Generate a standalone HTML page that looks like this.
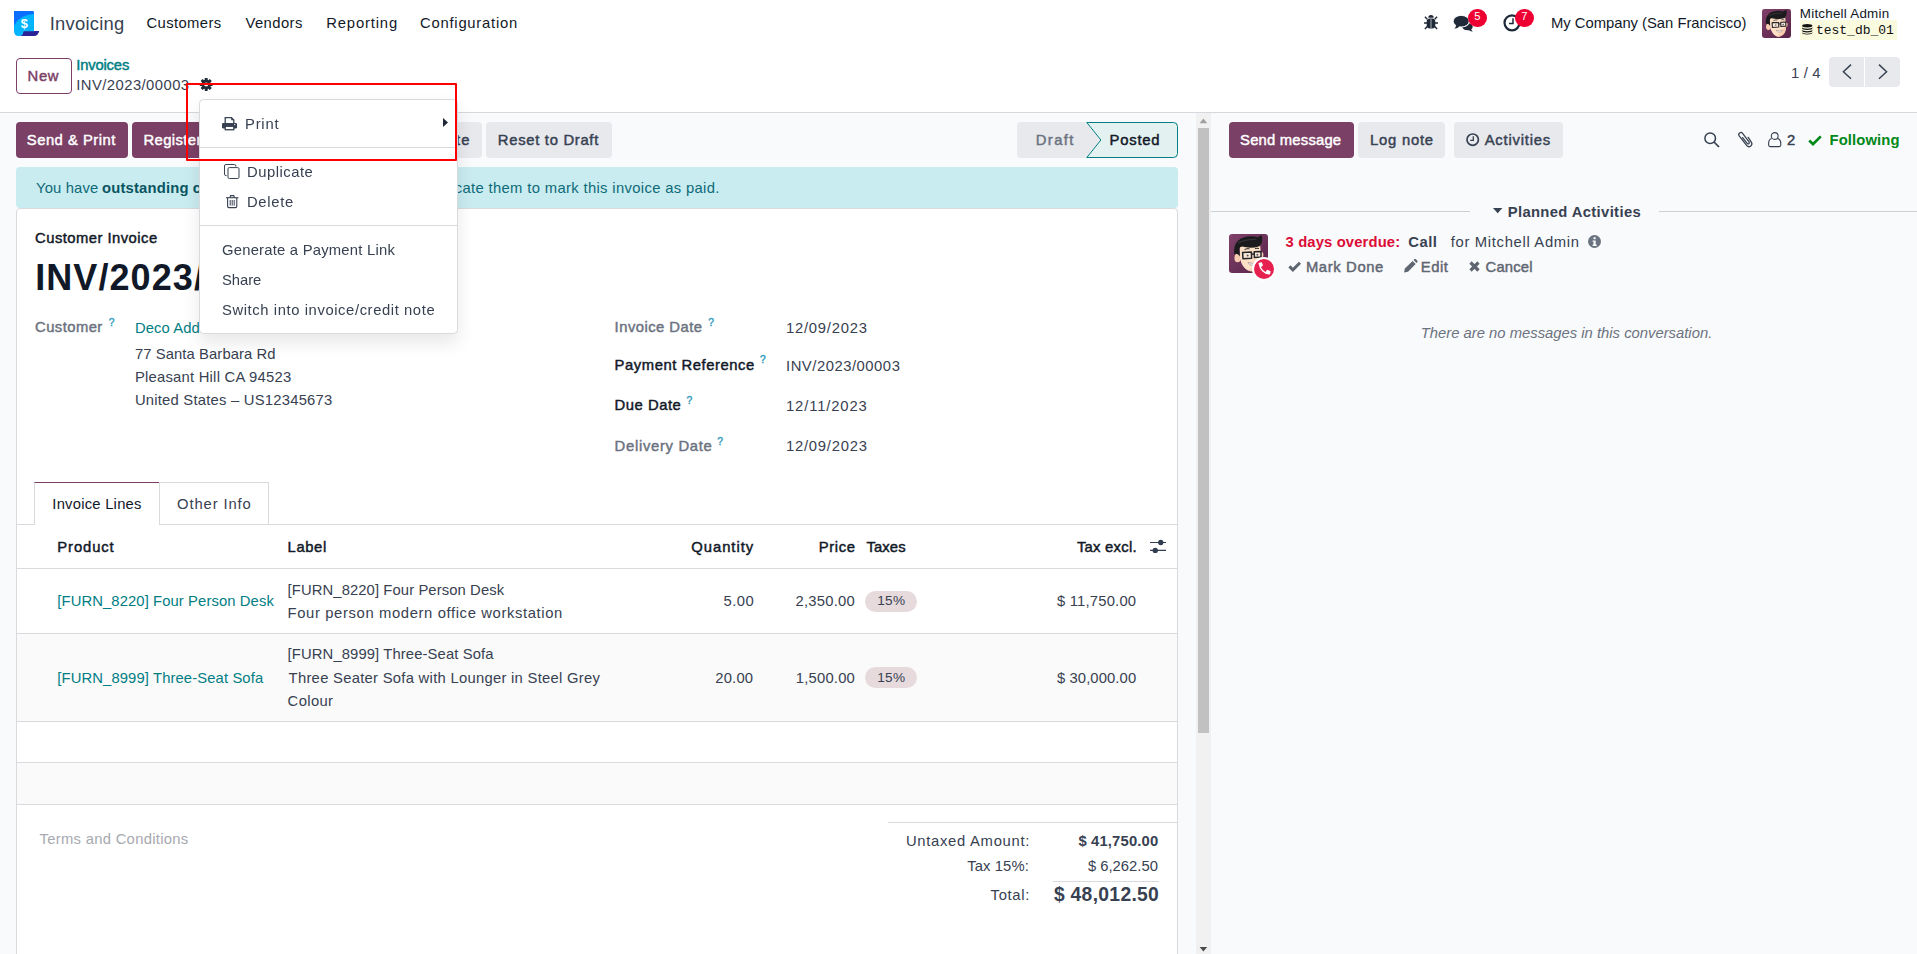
<!DOCTYPE html>
<html lang="en">
<head>
<meta charset="utf-8">
<title>Odoo - INV/2023/00003</title>
<style>
*{box-sizing:border-box;margin:0;padding:0}
html,body{width:1917px;height:954px;overflow:hidden;background:#fff}
body{position:relative;font-family:"Liberation Sans",sans-serif;font-size:14.8px;color:#374151}
.a{position:absolute}
.t{position:absolute;white-space:pre;line-height:1;font-family:"Liberation Sans",sans-serif}
.btn{position:absolute;top:122px;height:36px;border-radius:4px}
.pri{background:#7b4066}
.sec{background:#e7e9ed}
.hl{position:absolute;height:1px;background:#d8dadd}
svg{position:absolute;overflow:visible}
</style>
</head>
<body>
<!-- ===== page backgrounds ===== -->
<div class="a" style="left:0;top:113px;width:1917px;height:841px;background:#f9fafb"></div>
<div class="hl" style="left:0;top:112px;width:1917px;background:#d5d8dc"></div>

<!-- ===== navbar ===== -->
<svg style="left:14px;top:11px" width="26" height="26" viewBox="0 0 26 26">
  <path d="M9.3 20H25.2Q24 25 20.2 25H5.5Q9 24.3 9.3 20Z" fill="#2a2496"/>
  <path d="M0 0H18.4A1.6 1.6 0 0 1 20 1.6V20.3H9.4Q9.4 25 4.9 25Q0 25 0 19.8Z" fill="#00b4ff"/>
  <path d="M0 0H18.4A1.6 1.6 0 0 1 20 1.6V3.1Q6.5 3.4 0 14.6Z" fill="#0b6dff"/>
  <text x="10.3" y="16.7" font-family="Liberation Sans, sans-serif" font-weight="700" font-size="12.8" fill="#fff" text-anchor="middle">$</text>
</svg>

<!-- bug -->
<svg style="left:1424px;top:15px" width="14" height="14" viewBox="0 0 14 14">
  <path d="M4.3 2.7A2.7 2.7 0 0 1 9.7 2.7Z" fill="#1f2937"/>
  <path d="M0.9 1.7L3.3 4.3M13.1 1.7L10.7 4.3M0 8H3M14 8H11M0.9 13.9L3.3 11.4M13.1 13.9L10.7 11.4" stroke="#1f2937" stroke-width="1.4" fill="none"/>
  <rect x="2.7" y="3.6" width="8.6" height="9.8" rx="3.2" fill="#1f2937"/>
  <path d="M7 4.2V13.2" stroke="#e8eef8" stroke-width=".7"/>
</svg>
<!-- comments -->
<svg style="left:1453px;top:15px" width="21" height="17" viewBox="0 0 21 17">
  <path d="M9 11.8Q14.6 12.2 16.2 8.2Q19.7 9.4 19.7 11.8Q19.7 13.3 18.2 14.3Q18.6 15.6 19.9 16.6Q17.4 16.5 16 15.2Q10.6 16 9 11.8Z" fill="#1f2937"/>
  <ellipse cx="8.2" cy="6.2" rx="8" ry="5.8" fill="#1f2937" stroke="#fff" stroke-width=".9"/>
  <path d="M3.2 9.8Q3 12.4 1.4 13.8Q4.6 13.6 6.6 11.6Z" fill="#1f2937"/>
</svg>
<div class="a" style="left:1468px;top:8.5px;width:18.6px;height:18.6px;border-radius:50%;background:#ee0033"></div>
<!-- clock -->
<svg style="left:1503px;top:14px" width="18" height="18" viewBox="0 0 18 18">
  <circle cx="9" cy="8.8" r="7.5" fill="none" stroke="#1f2937" stroke-width="2.2"/>
  <path d="M10 4.3V9.6H6" fill="none" stroke="#1f2937" stroke-width="1.5"/>
</svg>
<div class="a" style="left:1515px;top:8.5px;width:18.6px;height:18.6px;border-radius:50%;background:#ee0033"></div>
<!-- avatar -->
<svg style="left:1762px;top:9px" width="29" height="29" viewBox="0 0 39 39">
  <defs><linearGradient id="ag29" x1="0" y1="0" x2="1" y2="1"><stop offset="0" stop-color="#80416b"/><stop offset="1" stop-color="#582348"/></linearGradient>
  <clipPath id="ac29"><rect width="39" height="39" rx="3.2"/></clipPath></defs>
  <g clip-path="url(#ac29)">
  <rect width="39" height="39" fill="url(#ag29)"/>
  <ellipse cx="8.6" cy="24" rx="3.2" ry="4.2" fill="#f6cdb0"/>
  <path d="M10.5 12.5Q20 9.5 31 10.5L32.3 22Q32.6 30 28.6 34.4Q24 38.6 19 36.6Q13 33.4 11.1 25Z" fill="#fde0c6"/>
  <path d="M25.5 30.5Q30 27 32.2 20L32.3 22Q32.6 30 28.6 34.4Q24 38.6 19.6 36.8Q23.5 35 25.5 30.5Z" fill="#f8cdae"/>
  <ellipse cx="33" cy="21" rx="1.4" ry="3" fill="#f6cdb0"/>
  <path d="M5.2 20Q4 9 12 4.5Q20 1 29 3.2Q31 1.2 33.2 1.6Q32.6 3 33.4 4.2Q33.5 9 30.6 12.2Q22 15 13 12.6Q10.6 12.8 10.4 15L10.9 22.5Q8.8 19 5.2 20Z" fill="#1b1b1d"/>
  <path d="M13.6 18.4L22.4 18.1L22.6 24.2L14 24.8Z" fill="#fbe9da" stroke="#26262a" stroke-width="1.5" stroke-linejoin="round"/>
  <path d="M25.2 17.8L32 17.4L32 23L25.4 23.6Z" fill="#fbe9da" stroke="#26262a" stroke-width="1.5" stroke-linejoin="round"/>
  <path d="M22.4 20.2L25.2 20" stroke="#26262a" stroke-width="1.3"/>
  <circle cx="18.6" cy="21.4" r="1" fill="#555"/><circle cx="28.4" cy="20.8" r="1" fill="#555"/>
  <path d="M15.5 15.6Q18 14.2 20.5 14.8" stroke="#2a2a2a" stroke-width="1" fill="none"/>
  <path d="M26 14.6Q28 13.8 30 14.6" stroke="#2a2a2a" stroke-width="1" fill="none"/>
  <path d="M18.9 28.5Q23.5 30.2 27.8 28.2Q26 31.7 22.6 31.3Q20 30.9 18.9 28.5Z" fill="#f3f0ee" stroke="#9a7f80" stroke-width=".6"/>
  <path d="M9 9Q17 4.6 27.5 5.4" stroke="#3c3c40" stroke-width="1.3" fill="none" opacity=".75"/>
  </g>
</svg>
<!-- db badge -->
<div class="a" style="left:1800px;top:20px;width:97px;height:20px;background:#fafadf"></div>
<svg style="left:1802px;top:24px" width="10.5" height="10.5" viewBox="0 0 10.5 10.5">
  <ellipse cx="5.25" cy="1.7" rx="5.1" ry="1.7" fill="#111"/>
  <path d="M0.15 3V4.3A5.1 1.7 0 0 0 10.35 4.3V3A5.1 1.7 0 0 1 0.15 3Z" fill="#111"/>
  <path d="M0.15 5.5V6.8A5.1 1.7 0 0 0 10.35 6.8V5.5A5.1 1.7 0 0 1 0.15 5.5Z" fill="#111"/>
  <path d="M0.15 8V8.8A5.1 1.7 0 0 0 10.35 8.8V8A5.1 1.7 0 0 1 0.15 8Z" fill="#111"/>
</svg>


<!-- ===== control panel ===== -->
<div class="a" style="left:16px;top:58px;width:56px;height:36px;border:1px solid #7b4066;border-radius:4px;background:#fff"></div>
<div class="a sec" style="left:1829px;top:57px;width:35px;height:30px;border-radius:4px 0 0 4px"></div>
<div class="a sec" style="left:1865px;top:57px;width:35px;height:30px;border-radius:0 4px 4px 0"></div>

<!-- gear -->
<svg style="left:199.8px;top:78px" width="12.4" height="13" viewBox="-6.2 -6.5 12.4 13">
  <g fill="#1f2937">
  <rect x="-1.5" y="-6.5" width="3" height="13" rx=".4"/>
  <rect x="-1.5" y="-6.5" width="3" height="13" rx=".4" transform="rotate(45)"/>
  <rect x="-1.5" y="-6.5" width="3" height="13" rx=".4" transform="rotate(90)"/>
  <rect x="-1.5" y="-6.5" width="3" height="13" rx=".4" transform="rotate(135)"/>
  <circle r="4.7"/></g>
  <circle r="2.1" fill="#fff"/>
</svg>
<!-- pager chevrons -->
<svg style="left:1829px;top:57px" width="71" height="30" viewBox="0 0 71 30">
  <path d="M22 7.6L14.4 14.7L22 21.8" fill="none" stroke="#374151" stroke-width="1.45"/>
  <path d="M50 7.6L57.6 14.7L50 21.8" fill="none" stroke="#374151" stroke-width="1.45"/>
</svg>


<!-- ===== form: button row ===== -->
<div class="btn pri" style="left:16px;width:112px"></div>
<div class="btn pri" style="left:132px;width:148px"></div>
<div class="btn sec" style="left:284px;width:82px"></div>
<div class="btn sec" style="left:370px;width:112px"></div>
<div class="btn sec" style="left:486px;width:126px"></div>
<!-- statusbar -->
<svg style="left:1017px;top:122px" width="161" height="36" viewBox="0 0 161 36">
  <path d="M4 0H69.3L83.6 18L69.3 36H4A4 4 0 0 1 0 32V4A4 4 0 0 1 4 0Z" fill="#e7e9ed"/>
  <path d="M69.8 0.5H156.5A4 4 0 0 1 160.5 4.5V31.5A4 4 0 0 1 156.5 35.5H69.8L83.9 18Z" fill="#e4f1f1" stroke="#017e84" stroke-width="1" stroke-linejoin="round"/>
</svg>
<!-- alert -->
<div class="a" style="left:16px;top:167px;width:1162px;height:41px;background:#c9ecf0;border-radius:4px"></div>
<!-- sheet -->
<div class="a" style="left:16px;top:208px;width:1162px;height:760px;background:#fff;border:1px solid #d8dadd;border-radius:4px 4px 0 0"></div>

<!-- tabs -->
<div class="hl" style="left:17px;top:524px;width:1160px"></div>
<div class="a" style="left:34px;top:482px;width:126px;height:43px;background:#fff;border:1px solid #d8dadd;border-top-color:#7b4066;border-bottom:none"></div>
<div class="a" style="left:159px;top:482px;width:110px;height:42px;border:1px solid #d8dadd;border-left:none;border-bottom:none"></div>

<!-- table -->
<div class="hl" style="left:17px;top:568px;width:1160px"></div>
<div class="a" style="left:17px;top:634px;width:1160px;height:87px;background:#fafafa"></div>
<div class="hl" style="left:17px;top:633px;width:1160px"></div>
<div class="hl" style="left:17px;top:721px;width:1160px"></div>
<div class="hl" style="left:17px;top:762px;width:1160px"></div>
<div class="a" style="left:17px;top:763px;width:1160px;height:41px;background:#fafafa"></div>
<div class="hl" style="left:17px;top:804px;width:1160px"></div>
<!-- tax badges -->
<div class="a" style="left:865px;top:591px;width:52px;height:21px;border-radius:11px;background:#e6dadd"></div>
<div class="a" style="left:865px;top:667px;width:52px;height:21px;border-radius:11px;background:#e6dadd"></div>
<!-- totals -->
<div class="hl" style="left:888px;top:822px;width:289px"></div>
<div class="hl" style="left:1053px;top:881px;width:106px"></div>

<!-- sliders icon -->
<svg style="left:1150px;top:540px" width="17" height="14" viewBox="0 0 17 14">
  <path d="M0 2.5H16M0 10.4H16" stroke="#313c4e" stroke-width="1.15"/>
  <circle cx="10.75" cy="2.5" r="2.65" fill="#313c4e"/><circle cx="5.25" cy="10.4" r="2.65" fill="#313c4e"/>
</svg>


<!-- scrollbar -->
<div class="a" style="left:1196px;top:113px;width:15px;height:841px;background:#f1f1f1"></div>
<div class="a" style="left:1198px;top:128px;width:11px;height:605px;background:#c1c1c1"></div>
<svg style="left:1196px;top:113px" width="15" height="841" viewBox="0 0 15 841">
  <path d="M3.6 10.2L7.4 5.6L11.2 10.2Z" fill="#a0a0a0"/>
  <path d="M3.6 834L7.4 838.5L11.2 834Z" fill="#4b4b4b"/>
</svg>

<!-- ===== chatter ===== -->
<div class="btn pri" style="left:1229px;width:125px"></div>
<div class="btn sec" style="left:1358px;width:87px"></div>
<div class="btn sec" style="left:1454px;width:109px"></div>
<div class="hl" style="left:1211px;top:211px;width:259px;background:#cdd0d5"></div>
<div class="hl" style="left:1659px;top:211px;width:258px;background:#cdd0d5"></div>

<!-- activities clock -->
<svg style="left:1465.8px;top:132.5px" width="13.4" height="13.4" viewBox="0 0 13.4 13.4">
  <circle cx="6.7" cy="6.7" r="5.7" fill="none" stroke="#374151" stroke-width="1.7"/>
  <path d="M7.3 3.2V7.4H4.2" fill="none" stroke="#374151" stroke-width="1.3"/>
</svg>
<!-- search -->
<svg style="left:1704px;top:131.8px" width="16" height="16" viewBox="0 0 16 16">
  <circle cx="6.2" cy="6.2" r="5.3" fill="none" stroke="#374151" stroke-width="1.5"/>
  <path d="M10 10L15 15" stroke="#374151" stroke-width="1.7"/>
</svg>
<!-- paperclip -->
<svg style="left:1736.5px;top:130.5px" width="17" height="18" viewBox="0 0 17 18">
  <path d="M11.2 6.3L14.6 11.6A2.9 2.9 0 0 1 9.8 14.7L2.2 4.9A2.1 2.1 0 0 1 5.6 2.4L12.2 11.2A1.2 1.2 0 0 1 10.3 12.6L5.6 6.6" fill="none" stroke="#374151" stroke-width="1.25" stroke-linecap="round"/>
</svg>
<!-- user-o -->
<svg style="left:1768px;top:131.8px" width="13.4" height="15.2" viewBox="0 0 13.4 15.2">
  <circle cx="6.7" cy="4" r="3.4" fill="none" stroke="#374151" stroke-width="1.1"/>
  <path d="M3.6 6.6Q0.6 7.6 0.6 11.4V13A1.6 1.6 0 0 0 2.2 14.6H11.2A1.6 1.6 0 0 0 12.8 13V11.4Q12.8 7.6 9.8 6.6" fill="none" stroke="#374151" stroke-width="1.1"/>
</svg>
<!-- following check -->
<svg style="left:1808.4px;top:134.5px" width="14" height="11" viewBox="0 0 14 11">
  <path d="M1.2 5.6L5 9.2L12.8 1.4" fill="none" stroke="#008818" stroke-width="2.7"/>
</svg>
<!-- planned activities caret -->
<svg style="left:1493.4px;top:208.4px" width="9.4" height="5.2" viewBox="0 0 9.4 5.2"><path d="M0 0H9.4L4.7 5.2Z" fill="#374151"/></svg>
<svg style="left:1229px;top:234px" width="39" height="39" viewBox="0 0 39 39">
  <defs><linearGradient id="ag39" x1="0" y1="0" x2="1" y2="1"><stop offset="0" stop-color="#80416b"/><stop offset="1" stop-color="#582348"/></linearGradient>
  <clipPath id="ac39"><rect width="39" height="39" rx="3.2"/></clipPath></defs>
  <g clip-path="url(#ac39)">
  <rect width="39" height="39" fill="url(#ag39)"/>
  <ellipse cx="8.6" cy="24" rx="3.2" ry="4.2" fill="#f6cdb0"/>
  <path d="M10.5 12.5Q20 9.5 31 10.5L32.3 22Q32.6 30 28.6 34.4Q24 38.6 19 36.6Q13 33.4 11.1 25Z" fill="#fde0c6"/>
  <path d="M25.5 30.5Q30 27 32.2 20L32.3 22Q32.6 30 28.6 34.4Q24 38.6 19.6 36.8Q23.5 35 25.5 30.5Z" fill="#f8cdae"/>
  <ellipse cx="33" cy="21" rx="1.4" ry="3" fill="#f6cdb0"/>
  <path d="M5.2 20Q4 9 12 4.5Q20 1 29 3.2Q31 1.2 33.2 1.6Q32.6 3 33.4 4.2Q33.5 9 30.6 12.2Q22 15 13 12.6Q10.6 12.8 10.4 15L10.9 22.5Q8.8 19 5.2 20Z" fill="#1b1b1d"/>
  <path d="M13.6 18.4L22.4 18.1L22.6 24.2L14 24.8Z" fill="#fbe9da" stroke="#26262a" stroke-width="1.5" stroke-linejoin="round"/>
  <path d="M25.2 17.8L32 17.4L32 23L25.4 23.6Z" fill="#fbe9da" stroke="#26262a" stroke-width="1.5" stroke-linejoin="round"/>
  <path d="M22.4 20.2L25.2 20" stroke="#26262a" stroke-width="1.3"/>
  <circle cx="18.6" cy="21.4" r="1" fill="#555"/><circle cx="28.4" cy="20.8" r="1" fill="#555"/>
  <path d="M15.5 15.6Q18 14.2 20.5 14.8" stroke="#2a2a2a" stroke-width="1" fill="none"/>
  <path d="M26 14.6Q28 13.8 30 14.6" stroke="#2a2a2a" stroke-width="1" fill="none"/>
  <path d="M18.9 28.5Q23.5 30.2 27.8 28.2Q26 31.7 22.6 31.3Q20 30.9 18.9 28.5Z" fill="#f3f0ee" stroke="#9a7f80" stroke-width=".6"/>
  <path d="M9 9Q17 4.6 27.5 5.4" stroke="#3c3c40" stroke-width="1.3" fill="none" opacity=".75"/>
  </g>
</svg>
<!-- phone badge -->
<div class="a" style="left:1252.4px;top:257px;width:23.6px;height:23.6px;border-radius:50%;background:#fff"></div>
<div class="a" style="left:1254.2px;top:258.8px;width:20px;height:20px;border-radius:50%;background:#e6204f"></div>
<svg style="left:1258px;top:262.4px" width="13" height="13" viewBox="0 0 13 13">
  <path d="M1.1 .8L3.2 .2Q3.8 .1 4 .7L4.9 3Q5.1 3.5 4.6 3.9L2.9 5Q4.4 8.4 7.6 10L8.9 8.1Q9.3 7.7 9.8 7.9L12.2 8.9Q12.8 9.2 12.6 9.8L12.1 11.9Q11.9 12.5 11.3 12.5Q2.4 12 .5 1.6Q.5 1 1.1 .8Z" fill="#fff"/>
</svg>
<!-- info -->
<svg style="left:1588.3px;top:235px" width="13" height="13" viewBox="0 0 13 13">
  <circle cx="6.5" cy="6.5" r="6.5" fill="#6b7280"/>
  <rect x="5.5" y="2.2" width="2.2" height="2" fill="#f9fafb"/>
  <path d="M4.6 5.4H7.7V9.6H8.7V10.9H4.6V9.6H5.5V6.7H4.6Z" fill="#f9fafb"/>
</svg>
<!-- mark done check -->
<svg style="left:1288px;top:261px" width="13.4" height="11" viewBox="0 0 13.4 11">
  <path d="M1.4 5.4L4.9 8.9L12 1.7" fill="none" stroke="#5f6672" stroke-width="3"/>
</svg>
<!-- pencil -->
<svg style="left:1403.6px;top:259.2px" width="13.6" height="13.6" viewBox="0 0 13.6 13.6">
  <path d="M0 13.6L.9 9.6L8.6 1.9L11.7 5L4 12.7Z" fill="#5f6672"/>
  <path d="M9.5 1L10.6 0Q11.3-.4 11.9 .2L13.4 1.7Q14 2.3 13.5 3L12.5 4.1Z" fill="#5f6672"/>
</svg>
<!-- times -->
<svg style="left:1469.4px;top:261px" width="11" height="11" viewBox="0 0 11 11">
  <path d="M1.5 1.5L9.5 9.5M9.5 1.5L1.5 9.5" stroke="#5f6672" stroke-width="3.2"/>
</svg>


<span class="t" style="left:49.70px;top:15.00px;font-size:18.4px;color:#374151;letter-spacing:0.250px;">Invoicing</span>
<span class="t" style="left:146.40px;top:16.00px;font-size:14.8px;color:#111827;letter-spacing:0.412px;">Customers</span>
<span class="t" style="left:245.50px;top:16.00px;font-size:14.8px;color:#111827;letter-spacing:0.417px;">Vendors</span>
<span class="t" style="left:326.20px;top:16.00px;font-size:14.8px;color:#111827;letter-spacing:0.850px;">Reporting</span>
<span class="t" style="left:420.00px;top:16.00px;font-size:14.8px;color:#111827;letter-spacing:0.767px;">Configuration</span>
<span class="t" style="left:1551.00px;top:16.00px;font-size:14.8px;color:#111827;letter-spacing:-0.016px;">My Company (San Francisco)</span>
<span class="t" style="left:1799.80px;top:7.00px;font-size:13.4px;color:#111827;letter-spacing:0.231px;">Mitchell Admin</span>
<span class="t" style="left:1816.00px;top:24.00px;font-size:13px;color:#111111;letter-spacing:-0.022px;font-family:'Liberation Mono', monospace;">test_db_01</span>
<span class="t" style="left:1474.20px;top:11.00px;font-size:11.2px;color:#fff;">5</span>
<span class="t" style="left:1521.20px;top:11.00px;font-size:11.2px;color:#fff;">7</span>
<span class="t" style="left:27.50px;top:69.00px;font-size:14.8px;color:#7b4066;letter-spacing:0.700px;-webkit-text-stroke:0.45px #7b4066;">New</span>
<span class="t" style="left:76.30px;top:58.00px;font-size:14.8px;color:#017e84;letter-spacing:-0.186px;-webkit-text-stroke:0.45px #017e84;">Invoices</span>
<span class="t" style="left:76.30px;top:78.00px;font-size:14.8px;color:#374151;letter-spacing:0.446px;">INV/2023/00003</span>
<span class="t" style="left:1790.90px;top:66.00px;font-size:14.8px;color:#374151;letter-spacing:0.200px;">1 / 4</span>
<span class="t" style="left:26.80px;top:133.00px;font-size:14.8px;color:#fff;letter-spacing:0.491px;-webkit-text-stroke:0.45px #fff;">Send &amp; Print</span>
<span class="t" style="left:143.50px;top:133.00px;font-size:14.8px;color:#fff;letter-spacing:0.400px;-webkit-text-stroke:0.45px #fff;">Register Payment</span>
<span class="t" style="left:382.50px;top:133.00px;font-size:14.8px;color:#374151;letter-spacing:1.220px;-webkit-text-stroke:0.45px #374151;">Credit Note</span>
<span class="t" style="left:497.80px;top:133.00px;font-size:14.8px;color:#374151;letter-spacing:0.708px;-webkit-text-stroke:0.45px #374151;">Reset to Draft</span>
<span class="t" style="left:1035.80px;top:133.00px;font-size:14.8px;color:#6b7280;letter-spacing:1.375px;-webkit-text-stroke:0.45px #6b7280;">Draft</span>
<span class="t" style="left:1109.50px;top:133.00px;font-size:14.8px;color:#111827;letter-spacing:0.800px;-webkit-text-stroke:0.45px #111827;">Posted</span>
<span class="t" style="left:36.00px;top:181.00px;font-size:14.8px;color:#0e6a78;letter-spacing:0.143px;">You have</span>
<span class="t" style="left:102.10px;top:181.00px;font-size:14.8px;color:#0a5561;letter-spacing:0.167px;font-weight:700;">outstanding credits</span>
<span class="t" style="left:247.50px;top:181.00px;font-size:14.8px;color:#0e6a78;letter-spacing:0.343px;">for this customer. You can allocate them to mark this invoice as paid.</span>
<span class="t" style="left:35.10px;top:231.00px;font-size:14.8px;color:#111827;letter-spacing:0.460px;-webkit-text-stroke:0.45px #111827;">Customer Invoice</span>
<span class="t" style="left:35.20px;top:260.00px;font-size:36px;color:#111827;letter-spacing:1.077px;font-weight:700;">INV/2023/00003</span>
<span class="t" style="left:35.10px;top:320.00px;font-size:14.8px;color:#6b7280;letter-spacing:0.429px;-webkit-text-stroke:0.45px #6b7280;">Customer</span>
<span class="t" style="left:108.80px;top:318.00px;font-size:10.3px;color:#3c9fc0;-webkit-text-stroke:0.45px #3c9fc0;">?</span>
<span class="t" style="left:134.90px;top:321.00px;font-size:14.8px;color:#017e84;letter-spacing:0.100px;">Deco Addict</span>
<span class="t" style="left:134.90px;top:347.00px;font-size:14.8px;color:#374151;letter-spacing:0.094px;">77 Santa Barbara Rd</span>
<span class="t" style="left:134.90px;top:370.00px;font-size:14.8px;color:#374151;letter-spacing:0.233px;">Pleasant Hill CA 94523</span>
<span class="t" style="left:134.90px;top:393.00px;font-size:14.8px;color:#374151;letter-spacing:0.228px;">United States – US12345673</span>
<span class="t" style="left:614.60px;top:320.00px;font-size:14.8px;color:#6b7280;letter-spacing:0.473px;-webkit-text-stroke:0.45px #6b7280;">Invoice Date</span>
<span class="t" style="left:708.30px;top:318.00px;font-size:10.3px;color:#3c9fc0;-webkit-text-stroke:0.45px #3c9fc0;">?</span>
<span class="t" style="left:786.00px;top:321.00px;font-size:14.8px;color:#374151;letter-spacing:0.756px;">12/09/2023</span>
<span class="t" style="left:614.60px;top:358.00px;font-size:14.8px;color:#111827;letter-spacing:0.556px;-webkit-text-stroke:0.45px #111827;">Payment Reference</span>
<span class="t" style="left:759.90px;top:355.00px;font-size:10.3px;color:#3c9fc0;-webkit-text-stroke:0.45px #3c9fc0;">?</span>
<span class="t" style="left:786.00px;top:359.00px;font-size:14.8px;color:#374151;letter-spacing:0.531px;">INV/2023/00003</span>
<span class="t" style="left:614.60px;top:398.00px;font-size:14.8px;color:#111827;letter-spacing:0.529px;-webkit-text-stroke:0.45px #111827;">Due Date</span>
<span class="t" style="left:686.60px;top:396.00px;font-size:10.3px;color:#3c9fc0;-webkit-text-stroke:0.45px #3c9fc0;">?</span>
<span class="t" style="left:786.00px;top:399.00px;font-size:14.8px;color:#374151;letter-spacing:0.867px;">12/11/2023</span>
<span class="t" style="left:614.60px;top:439.00px;font-size:14.8px;color:#6b7280;letter-spacing:0.700px;-webkit-text-stroke:0.45px #6b7280;">Delivery Date</span>
<span class="t" style="left:717.20px;top:437.00px;font-size:10.3px;color:#3c9fc0;-webkit-text-stroke:0.45px #3c9fc0;">?</span>
<span class="t" style="left:786.00px;top:439.00px;font-size:14.8px;color:#374151;letter-spacing:0.756px;">12/09/2023</span>
<span class="t" style="left:52.30px;top:497.00px;font-size:14.8px;color:#111827;letter-spacing:0.233px;">Invoice Lines</span>
<span class="t" style="left:177.10px;top:497.00px;font-size:14.8px;color:#374151;letter-spacing:0.867px;">Other Info</span>
<span class="t" style="left:57.30px;top:540.00px;font-size:14.8px;color:#111827;letter-spacing:0.900px;-webkit-text-stroke:0.45px #111827;">Product</span>
<span class="t" style="left:287.60px;top:540.00px;font-size:14.8px;color:#111827;letter-spacing:0.600px;-webkit-text-stroke:0.45px #111827;">Label</span>
<span class="t" style="left:691.30px;top:540.00px;font-size:14.8px;color:#111827;letter-spacing:0.957px;-webkit-text-stroke:0.45px #111827;">Quantity</span>
<span class="t" style="left:818.80px;top:540.00px;font-size:14.8px;color:#111827;letter-spacing:0.600px;-webkit-text-stroke:0.45px #111827;">Price</span>
<span class="t" style="left:866.50px;top:540.00px;font-size:14.8px;color:#111827;letter-spacing:0.100px;-webkit-text-stroke:0.45px #111827;">Taxes</span>
<span class="t" style="left:1076.90px;top:540.00px;font-size:14.8px;color:#111827;letter-spacing:0.263px;-webkit-text-stroke:0.45px #111827;">Tax excl.</span>
<span class="t" style="left:57.30px;top:594.00px;font-size:14.8px;color:#017e84;letter-spacing:0.100px;">[FURN_8220] Four Person Desk</span>
<span class="t" style="left:287.60px;top:583.00px;font-size:14.8px;color:#374151;letter-spacing:0.100px;">[FURN_8220] Four Person Desk</span>
<span class="t" style="left:287.60px;top:606.00px;font-size:14.8px;color:#374151;letter-spacing:0.625px;">Four person modern office workstation</span>
<span class="t" style="left:723.60px;top:594.00px;font-size:14.8px;color:#374151;letter-spacing:0.467px;">5.00</span>
<span class="t" style="left:795.40px;top:594.00px;font-size:14.8px;color:#374151;letter-spacing:0.257px;">2,350.00</span>
<span class="t" style="left:877.20px;top:594.00px;font-size:13.6px;color:#374151;letter-spacing:0.350px;">15%</span>
<span class="t" style="left:1056.90px;top:594.00px;font-size:14.8px;color:#374151;letter-spacing:0.210px;">$ 11,750.00</span>
<span class="t" style="left:57.30px;top:671.00px;font-size:14.8px;color:#017e84;letter-spacing:0.115px;">[FURN_8999] Three-Seat Sofa</span>
<span class="t" style="left:287.60px;top:647.00px;font-size:14.8px;color:#374151;letter-spacing:0.115px;">[FURN_8999] Three-Seat Sofa</span>
<span class="t" style="left:288.60px;top:671.00px;font-size:14.8px;color:#374151;letter-spacing:0.277px;">Three Seater Sofa with Lounger in Steel Grey</span>
<span class="t" style="left:287.60px;top:694.00px;font-size:14.8px;color:#374151;letter-spacing:0.360px;">Colour</span>
<span class="t" style="left:715.30px;top:671.00px;font-size:14.8px;color:#374151;letter-spacing:0.175px;">20.00</span>
<span class="t" style="left:795.80px;top:671.00px;font-size:14.8px;color:#374151;letter-spacing:0.200px;">1,500.00</span>
<span class="t" style="left:877.20px;top:671.00px;font-size:13.6px;color:#374151;letter-spacing:0.350px;">15%</span>
<span class="t" style="left:1056.90px;top:671.00px;font-size:14.8px;color:#374151;letter-spacing:0.110px;">$ 30,000.00</span>
<span class="t" style="left:39.50px;top:832.00px;font-size:14.8px;color:#a6a9af;letter-spacing:0.295px;">Terms and Conditions</span>
<span class="t" style="left:905.90px;top:834.00px;font-size:14.8px;color:#374151;letter-spacing:0.714px;">Untaxed Amount:</span>
<span class="t" style="left:1078.40px;top:834.00px;font-size:14.8px;color:#374151;letter-spacing:0.160px;font-weight:700;">$ 41,750.00</span>
<span class="t" style="left:967.30px;top:859.00px;font-size:14.8px;color:#374151;letter-spacing:0.086px;">Tax 15%:</span>
<span class="t" style="left:1087.90px;top:859.00px;font-size:14.8px;color:#374151;letter-spacing:0.011px;">$ 6,262.50</span>
<span class="t" style="left:990.60px;top:888.00px;font-size:14.8px;color:#374151;letter-spacing:0.660px;">Total:</span>
<span class="t" style="left:1053.90px;top:885.00px;font-size:19.3px;color:#374151;letter-spacing:0.310px;font-weight:700;">$ 48,012.50</span>
<span class="t" style="left:1240.10px;top:133.00px;font-size:14.8px;color:#fff;letter-spacing:0.209px;-webkit-text-stroke:0.45px #fff;">Send message</span>
<span class="t" style="left:1370.10px;top:133.00px;font-size:14.8px;color:#374151;letter-spacing:0.757px;-webkit-text-stroke:0.45px #374151;">Log note</span>
<span class="t" style="left:1484.70px;top:133.00px;font-size:14.8px;color:#374151;letter-spacing:0.789px;-webkit-text-stroke:0.45px #374151;">Activities</span>
<span class="t" style="left:1786.90px;top:133.00px;font-size:14.8px;color:#374151;-webkit-text-stroke:0.45px #374151;">2</span>
<span class="t" style="left:1829.50px;top:133.00px;font-size:14.8px;color:#008818;letter-spacing:0.125px;font-weight:700;">Following</span>
<span class="t" style="left:1507.70px;top:205.00px;font-size:14.8px;color:#374151;letter-spacing:0.359px;font-weight:700;">Planned Activities</span>
<span class="t" style="left:1285.50px;top:235.00px;font-size:14.8px;color:#dc0c36;letter-spacing:0.143px;font-weight:700;">3 days overdue:</span>
<span class="t" style="left:1408.20px;top:235.00px;font-size:14.8px;color:#374151;letter-spacing:0.533px;font-weight:700;">Call</span>
<span class="t" style="left:1450.80px;top:235.00px;font-size:14.8px;color:#374151;letter-spacing:0.671px;">for Mitchell Admin</span>
<span class="t" style="left:1305.90px;top:260.00px;font-size:14.8px;color:#5f6672;letter-spacing:0.637px;-webkit-text-stroke:0.45px #5f6672;">Mark Done</span>
<span class="t" style="left:1420.80px;top:260.00px;font-size:14.8px;color:#5f6672;letter-spacing:0.500px;-webkit-text-stroke:0.45px #5f6672;">Edit</span>
<span class="t" style="left:1485.50px;top:260.00px;font-size:14.8px;color:#5f6672;letter-spacing:0.200px;-webkit-text-stroke:0.45px #5f6672;">Cancel</span>
<span class="t" style="left:1420.70px;top:326.00px;font-size:14.8px;color:#6b7280;letter-spacing:0.010px;font-style:italic;">There are no messages in this conversation.</span>
<span class="t" style="left:245.00px;top:117.00px;font-size:14.8px;color:#374151;letter-spacing:0.775px;z-index:11;will-change:transform;">Print</span>
<span class="t" style="left:247.10px;top:165.00px;font-size:14.8px;color:#374151;letter-spacing:0.512px;z-index:11;will-change:transform;">Duplicate</span>
<span class="t" style="left:247.10px;top:195.00px;font-size:14.8px;color:#374151;letter-spacing:0.680px;z-index:11;will-change:transform;">Delete</span>
<span class="t" style="left:222.10px;top:243.00px;font-size:14.8px;color:#374151;letter-spacing:0.227px;z-index:11;will-change:transform;">Generate a Payment Link</span>
<span class="t" style="left:222.10px;top:273.00px;font-size:14.8px;color:#374151;letter-spacing:-0.050px;z-index:11;will-change:transform;">Share</span>
<span class="t" style="left:222.10px;top:303.00px;font-size:14.8px;color:#374151;letter-spacing:0.590px;z-index:11;will-change:transform;">Switch into invoice/credit note</span>

<!-- ===== dropdown ===== -->
<div class="a" style="left:199px;top:99px;width:259px;height:235px;background:#fff;border:1px solid #d8dadd;border-radius:4.4px;box-shadow:0 8.8px 17.6px rgba(0,0,0,.095);z-index:10"></div>
<div class="hl" style="left:200px;top:147px;width:257px;z-index:11"></div>
<div class="hl" style="left:200px;top:225px;width:257px;z-index:11"></div>

<!-- print -->
<svg style="left:222px;top:116.8px;z-index:11" width="15" height="13.4" viewBox="0 0 15 13.4">
  <path d="M3.2 6.6V.65H9.4L11.8 3V6.6" fill="#fff" stroke="#374151" stroke-width="1.3"/>
  <path d="M9.2 .6V3.2H11.8Z" fill="#374151"/>
  <rect x="0" y="5.9" width="15" height="5.6" rx="1.2" fill="#374151"/>
  <rect x="3.2" y="9.3" width="8.6" height="3.45" fill="#fff" stroke="#374151" stroke-width="1.3"/>
  <circle cx="12.7" cy="7.6" r=".7" fill="#fff"/>
</svg>
<!-- caret right -->
<svg style="left:443.4px;top:118px;z-index:11" width="5" height="9" viewBox="0 0 5 9"><path d="M0 0L5 4.5L0 9Z" fill="#1f2937"/></svg>
<!-- duplicate -->
<svg style="left:224.4px;top:164px;z-index:11" width="15.6" height="15" viewBox="0 0 15.6 15">
  <path d="M2.6 11.6H2A1.5 1.5 0 0 1 .5 10.1V2A1.5 1.5 0 0 1 2 .5H10.4A1.5 1.5 0 0 1 11.9 2V2.6" fill="none" stroke="#374151" stroke-width="1"/>
  <rect x="4" y="3.6" width="11" height="10.9" rx="1.3" fill="#fff" stroke="#374151" stroke-width="1"/>
</svg>
<!-- trash -->
<svg style="left:226px;top:194.8px;z-index:11" width="12.4" height="13.2" viewBox="0 0 12.4 13.2">
  <path d="M0 2.7H12.4" stroke="#374151" stroke-width="1.1"/>
  <path d="M4 2.5L4.6 .6H7.8L8.4 2.5" fill="none" stroke="#374151" stroke-width="1.1"/>
  <path d="M1.6 2.9V11.3A1.3 1.3 0 0 0 2.9 12.6H9.5A1.3 1.3 0 0 0 10.8 11.3V2.9" fill="none" stroke="#374151" stroke-width="1.1"/>
  <path d="M4.2 5V10.6M6.2 5V10.6M8.2 5V10.6" stroke="#374151" stroke-width="1"/>
</svg>

<!-- highlight rectangle -->
<div class="a" style="left:186px;top:83px;width:271px;height:78px;border:2px solid #ff0000;border-radius:1px;z-index:20"></div>
</body>
</html>
